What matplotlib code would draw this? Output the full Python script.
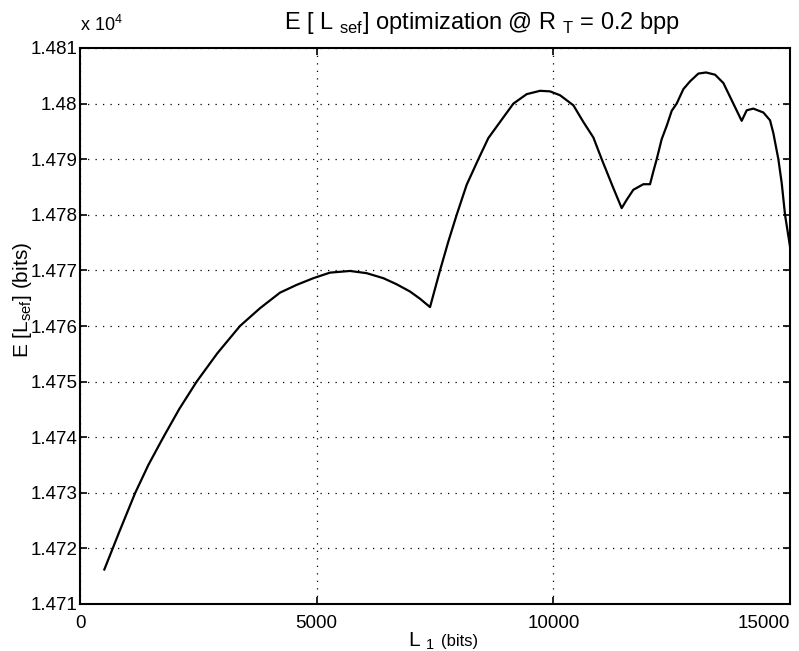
import numpy as np
import matplotlib
matplotlib.use('Agg')
import matplotlib.pyplot as plt

# values (L1 in bits, E[Lsef] in bits)
l1_bits = [514, 831, 1162, 1444, 1761, 2099, 2465, 2902, 3380, 3803, 4226, 4578,
           4930, 5282, 5705, 6057, 6409, 6691, 6972, 7184, 7395,
           7606, 7782, 7958, 8169, 8416, 8627, 8874, 9156, 9437, 9719, 9930,
           10142, 10423, 10634, 10846, 11022, 11268, 11444,
           11550, 11690, 11902, 12043, 12113, 12184, 12289, 12395, 12501, 12606,
           12747, 12888, 13064, 13226, 13417, 13592, 13803, 13979,
           14086, 14225, 14437, 14578, 14648, 14754, 14825, 14895, 15000]
e_lsef = [14716.2, 14723.0, 14729.9, 14735.0, 14740.0, 14745.1, 14750.0, 14755.1,
          14760.0, 14763.2, 14766.0, 14767.4, 14768.6, 14769.6, 14769.9, 14769.5,
          14768.6, 14767.5, 14766.2, 14764.9, 14763.4,
          14770.0, 14775.2, 14780.0, 14785.4, 14790.0, 14793.8, 14796.7, 14800.0,
          14801.7, 14802.3, 14802.2, 14801.5, 14799.7, 14796.7, 14793.9, 14790.0,
          14784.8, 14781.2,
          14782.7, 14784.5, 14785.5, 14785.5, 14787.8, 14790.0, 14793.6, 14796.0,
          14798.7, 14800.0, 14802.6, 14804.0, 14805.4, 14805.6, 14805.2, 14803.7,
          14800.0, 14796.9,
          14798.8, 14799.1, 14798.4, 14797.0, 14794.7, 14790.0, 14785.7, 14780.0,
          14774.3]

x_ticks = [0, 5000, 10000, 15000]
y_ticks = [1.471, 1.472, 1.473, 1.474, 1.475, 1.476, 1.477, 1.478, 1.479, 1.480, 1.481]
y_scale = 1e4

plt.rcParams['font.family'] = ['Liberation Sans', 'DejaVu Sans']
plt.rcParams['mathtext.fontset'] = 'custom'
plt.rcParams['mathtext.rm'] = 'Liberation Sans'

W, H = 799, 651
fig = plt.figure(figsize=(W / 100, H / 100), dpi=100)
ax = fig.add_axes([80 / W, 1 - 604 / H, 710 / W, 556 / H])

ax.plot(l1_bits, np.array(e_lsef) / y_scale, color='black', lw=1.6,
        solid_joinstyle='round')

ax.set_xlim(0, 15000)
ax.set_ylim(1.471, 1.481)
ax.set_xticks(x_ticks)
ax.set_yticks(y_ticks)
ax.set_xticklabels([str(t) for t in x_ticks])
ax.set_yticklabels(['%g' % t for t in y_ticks])
ax.xaxis.get_ticklabels()[-1].set_horizontalalignment('right')

ax.tick_params(direction='in', length=5, width=1.2, top=True, right=True,
               labelsize=13.5, pad=2)
ax.tick_params(axis='x', pad=8)
for sp in ax.spines.values():
    sp.set_linewidth(1.5)

ax.grid(True, color='black', linestyle=(0, (1, 5)), linewidth=0.9)

# title and labels placed like the original figure
fig.text(482 / W, 1 - 29 / H, r'E [ L $_{\rm sef}$] optimization @ R $_{\rm T}$ = 0.2 bpp',
         ha='center', va='baseline', fontsize=17)
fig.text(80 / W, 1 - 31 / H, r'x 10$^{4}$', ha='left', va='baseline', fontsize=13)
fig.text(408 / W, 1 - 646 / H, r'L $_{\rm 1}$', ha='left', va='baseline', fontsize=15)
fig.text(441 / W, 1 - 646 / H, '(bits)', ha='left', va='baseline', fontsize=12)
fig.text(23 / W, 1 - 300 / H, r'E [L$_{\rm sef}$] (bits)', ha='center', va='center',
         rotation=90, fontsize=15)

fig.savefig('out.png', dpi=100)
